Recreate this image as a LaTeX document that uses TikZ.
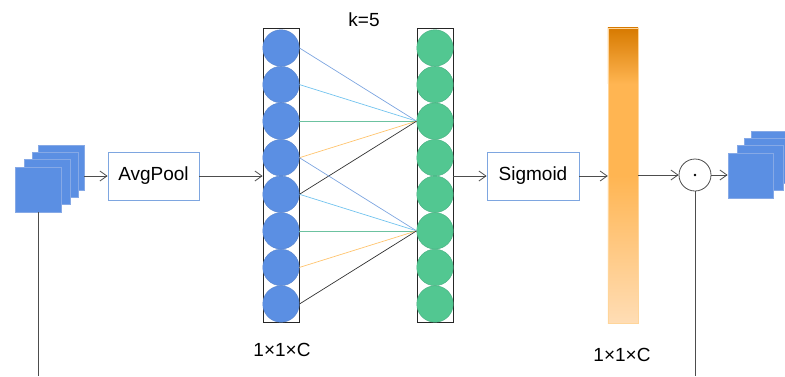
\documentclass[tikz,border=0pt]{standalone}
\usepackage{fontspec}
\setmainfont{Liberation Sans}
\usetikzlibrary{arrows.meta,calc}
\definecolor{fmblue}{HTML}{5B8FE3}
\definecolor{fmblueline}{HTML}{86A9E6}
\definecolor{cblueline}{HTML}{5A85CC}
\definecolor{cgreen}{HTML}{52C791}
\definecolor{cgreenline}{HTML}{48AE80}
\definecolor{boxline}{HTML}{7EA6E0}
\definecolor{arrgray}{HTML}{4D4D4D}
\definecolor{lnA}{HTML}{7EA6E0}
\definecolor{lnB}{HTML}{72C3EE}
\definecolor{lnC}{HTML}{6CC2A0}
\definecolor{lnD}{HTML}{FFC46E}
\definecolor{lnE}{HTML}{333333}
\definecolor{orDark}{HTML}{D77A00}
\definecolor{orMid}{HTML}{FFB552}
\definecolor{orLight}{HTML}{FFDDB5}
\definecolor{orLine}{HTML}{FFD59A}
\begin{document}
\begin{tikzpicture}[x=1pt,y=-1pt,
  every node/.style={font=\fontsize{19}{22}\selectfont},
  fmap/.style={draw=fmblueline,fill=fmblue,line width=0.8pt,minimum width=46pt,minimum height=45pt,inner sep=0pt},
  opbox/.style={draw=boxline,fill=white,line width=0.8pt,minimum width=91pt,minimum height=48pt,inner sep=0pt},
  colbox/.style={draw=black!85,line width=0.8pt,minimum width=36pt,minimum height=294pt,inner sep=0pt},
  bcirc/.style={circle,draw=cblueline,fill=fmblue,minimum size=36.5pt,inner sep=0pt},
  gcirc/.style={circle,draw=cgreenline,fill=cgreen,minimum size=36.5pt,inner sep=0pt},
  arr/.style={draw=arrgray,line width=0.8pt,-{Straight Barb[length=7pt,width=10pt]}},
  plain/.style={draw=arrgray,line width=0.8pt},
  conn/.style={line width=0.7pt}
]
\useasboundingbox (0,0) rectangle (785,376);

% left feature map stack
\node[fmap] (l4) at (61,167.5) {};
\node[fmap] (l3) at (55,174.5) {};
\node[fmap] (l2) at (47,181.5) {};
\node[fmap] (l1) at (38,189.5) {};

% AvgPool
\node[opbox] (avg) at (153.5,176) {AvgPool};

% columns
\node[colbox] (lcol) at (281,175) {};
\node[colbox] (rcol) at (435,175) {};
\foreach \i in {1,...,8} {
  \node[bcirc] (b\i) at (281,{48+(\i-1)*36.57}) {};
  \node[gcirc] (g\i) at (435,{48+(\i-1)*36.57}) {};
}

% connections k=5
\draw[conn,lnA] (b1.east) -- (g3.west);
\draw[conn,lnB] (b2.east) -- (g3.west);
\draw[conn,lnC] (b3.east) -- (g3.west);
\draw[conn,lnD] (b4.east) -- (g3.west);
\draw[conn,lnE] (b5.east) -- (g3.west);
\draw[conn,lnA] (b4.east) -- (g6.west);
\draw[conn,lnB] (b5.east) -- (g6.west);
\draw[conn,lnC] (b6.east) -- (g6.west);
\draw[conn,lnD] (b7.east) -- (g6.west);
\draw[conn,lnE] (b8.east) -- (g6.west);

\node (k) at (364,20) {k=5};
\node (dimL) at (282,350) {1×1×C};

% Sigmoid
\node[opbox,minimum width=92pt] (sig) at (533,176) {Sigmoid};

% orange bar
\node[minimum width=30pt,minimum height=295pt,inner sep=0pt] (bar) at (623,175.5) {};
\shade[top color=orDark,bottom color=orMid] (bar.north west) rectangle ($(bar.north east)!0.19!(bar.south east)$);
\fill[orMid] ($(bar.north west)!0.19!(bar.south west)$) rectangle ($(bar.north east)!0.5!(bar.south east)$);
\shade[top color=orMid,bottom color=orLight] ($(bar.north west)!0.5!(bar.south west)$) rectangle (bar.south east);
\draw[orLine,line width=0.6pt] (bar.north west) rectangle (bar.south east);
\node (dimR) at (622,355) {1×1×C};

% product
\node[circle,draw=arrgray,line width=0.8pt,fill=white,minimum size=32pt,inner sep=0pt] (dot) at (695,175) {};
\fill[black] (dot.center) circle (1.3pt);

% right feature map stack
\node[fmap] (r4) at (774,153.5) {};
\node[fmap] (r3) at (767,160.5) {};
\node[fmap] (r2) at (760,167.5) {};
\node[fmap,minimum width=45pt] (r1) at (750.5,175.5) {};

% arrows
\draw[arr] (l4.east |- avg.west) -- (avg.west);
\draw[arr] (avg.east) -- (avg.east -| lcol.west);
\draw[arr] (rcol.east |- sig.west) -- (sig.west);
\draw[arr] (sig.east) -- (sig.east -| bar.west);
\draw[arr] (bar.east |- dot.west) -- (dot.west);
\draw[arr] (dot.east) -- (dot.east -| r1.west);

% skip lines
\coordinate (lb) at (39,376);
\draw[plain] (l1.south) -- (l1.south |- lb);
\draw[plain] (dot.south) -- (dot.south |- lb);
\end{tikzpicture}
\end{document}
